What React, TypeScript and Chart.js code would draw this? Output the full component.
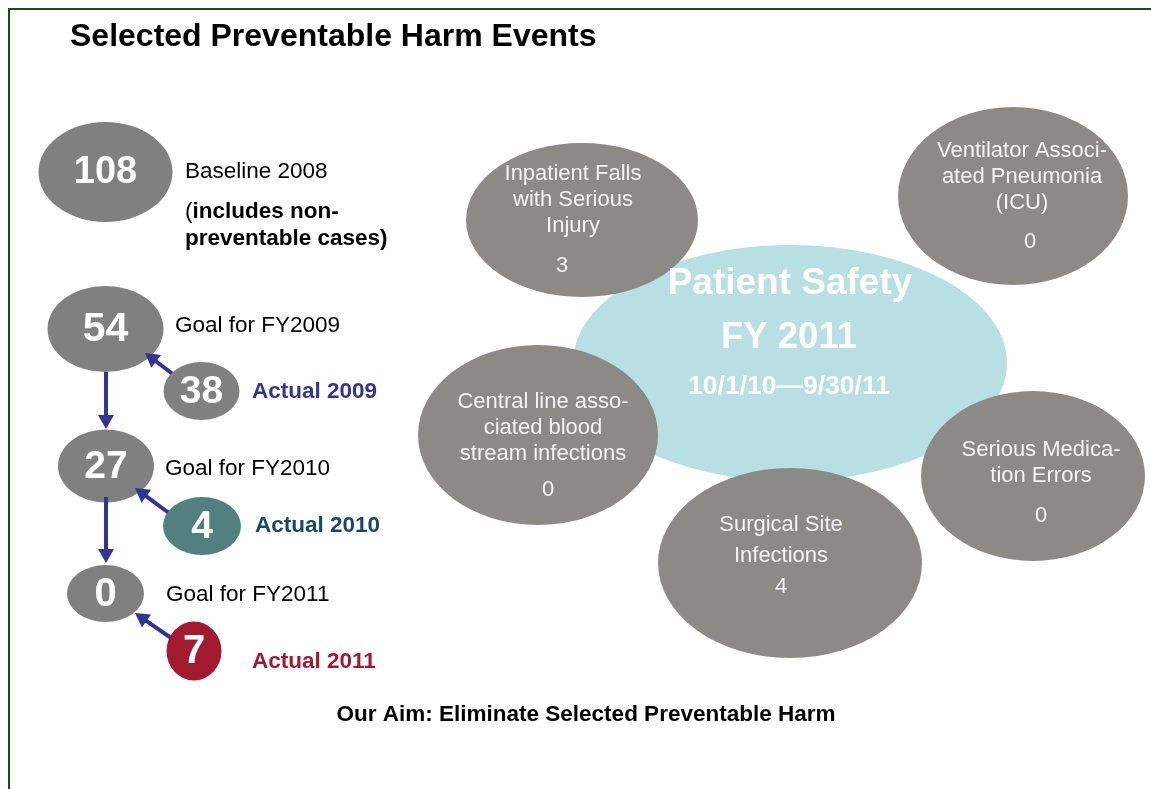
import React, { useEffect, useRef } from "react";
import { Chart, registerables } from "chart.js";

Chart.register(...registerables);

// ---------- data ----------
const goalValues = [108, 54, 27, 0];
const goalLabels = ["Baseline 2008", "Goal for FY2009", "Goal for FY2010", "Goal for FY2011"];
const actualValues = [38, 4, 7];
const actualLabels = ["Actual 2009", "Actual 2010", "Actual 2011"];
const harmCategories = [
  ["Inpatient Falls", "with Serious", "Injury"],
  ["Ventilator Associ-", "ated Pneumonia", "(ICU)"],
  ["Central line asso-", "ciated blood", "stream infections"],
  ["Serious Medica-", "tion Errors"],
  ["Surgical Site", "Infections"],
];
const harmCounts = [3, 0, 0, 0, 4];
const centerTitle = ["Patient Safety", "FY 2011"];
const centerPeriod = "10/1/10\u20149/30/11";
const chartTitle = "Selected Preventable Harm Events";
const aimText = "Our Aim: Eliminate Selected Preventable Harm";
const baselineNote = ["includes non-", "preventable cases)"];

// ---------- layout (positions / sizes, in canvas units) ----------
const goalLayout = [
  { x: 105.5, y: 172, rx: 67, ry: 50, fs: 38, lx: 185, ly: 172 },
  { x: 105.5, y: 329, rx: 58, ry: 43, fs: 41, lx: 175, ly: 326 },
  { x: 106, y: 466, rx: 48, ry: 36.5, fs: 39, lx: 165, ly: 469 },
  { x: 105.5, y: 593.5, rx: 38.5, ry: 28.5, fs: 40, lx: 166, ly: 595 },
];
const actualLayout = [
  { x: 201.5, y: 391, rx: 38, ry: 29, fs: 39, lx: 252, ly: 392, ax: 178, ay: 378, hx: 145, hy: 353 },
  { x: 202, y: 526, rx: 39, ry: 29, fs: 39, lx: 255, ly: 526, ax: 173, ay: 516, hx: 135, hy: 488 },
  { x: 194, y: 651, rx: 27.5, ry: 29.5, fs: 40, lx: 252, ly: 662, ax: 174, ay: 640, hx: 135, hy: 613 },
];
const downArrows = [
  { x: 106, y1: 372, y2: 429 },
  { x: 106, y1: 497, y2: 563 },
];
const centerLayout = { x: 790, y: 363, rx: 217, ry: 118 };
const harmLayout = [
  { x: 582, y: 220, rx: 116, ry: 77, tx: 573, ty: 174, vx: 562, vy: 266 },
  { x: 1013, y: 196, rx: 115, ry: 89, tx: 1022, ty: 151, vx: 1030, vy: 242 },
  { x: 538, y: 435, rx: 120, ry: 90, tx: 543, ty: 402, vx: 548, vy: 490 },
  { x: 1033, y: 476, rx: 112, ry: 85, tx: 1041, ty: 450, vx: 1041, vy: 516 },
  { x: 790, y: 563, rx: 132, ry: 95, tx: 781, ty: 525, vx: 781, vy: 587, lh: 31 },
];

// ---------- styles ----------
const FONT = "'Liberation Sans', Arial, Helvetica, sans-serif";
const goalColor = "#808080";
const actualColors = ["#808080", "#528080", "#A31A30"];
const actualLabelColors = ["#333399", "#17466E", "#A31A30"];
const arrowColor = "#333399";
const harmColor = "#8C8A86";
const centerColor = "#B8DFE3";
const frameColor = "#1E4A1E";

const W = 1151;
const H = 789;

function ellipse(ctx: CanvasRenderingContext2D, x: number, y: number, rx: number, ry: number, color: string) {
  ctx.beginPath();
  ctx.ellipse(x, y, rx, ry, 0, 0, Math.PI * 2);
  ctx.fillStyle = color;
  ctx.fill();
}

function text(
  ctx: CanvasRenderingContext2D,
  s: string,
  x: number,
  y: number,
  font: string,
  color: string,
  align: CanvasTextAlign = "center"
) {
  ctx.font = font;
  ctx.fillStyle = color;
  ctx.textAlign = align;
  ctx.textBaseline = "middle";
  ctx.fillText(s, x, y);
}

function arrow(ctx: CanvasRenderingContext2D, x1: number, y1: number, x2: number, y2: number) {
  const ang = Math.atan2(y2 - y1, x2 - x1);
  const hl = 14;
  const hw = 8;
  const bx = x2 - Math.cos(ang) * hl;
  const by = y2 - Math.sin(ang) * hl;
  ctx.strokeStyle = arrowColor;
  ctx.lineWidth = 4;
  ctx.lineCap = "butt";
  ctx.beginPath();
  ctx.moveTo(x1, y1);
  ctx.lineTo(bx + Math.cos(ang) * 2, by + Math.sin(ang) * 2);
  ctx.stroke();
  ctx.beginPath();
  ctx.moveTo(x2, y2);
  ctx.lineTo(bx + Math.cos(ang + Math.PI / 2) * hw, by + Math.sin(ang + Math.PI / 2) * hw);
  ctx.lineTo(bx - Math.cos(ang + Math.PI / 2) * hw, by - Math.sin(ang + Math.PI / 2) * hw);
  ctx.closePath();
  ctx.fillStyle = arrowColor;
  ctx.fill();
}

const infographicPlugin = {
  id: "infographic",
  beforeDatasetsDraw(chart: any) {
    const ctx: CanvasRenderingContext2D = chart.ctx;
    const xs = chart.scales.x;
    const ys = chart.scales.y;
    const px = (v: number) => xs.getPixelForValue(v);
    const py = (v: number) => ys.getPixelForValue(v);
    const rxp = (x: number, r: number) => Math.abs(px(x + r) - px(x));
    const ryp = (y: number, r: number) => Math.abs(py(y + r) - py(y));

    ctx.save();
    // frame
    ctx.strokeStyle = frameColor;
    ctx.lineWidth = 2;
    ctx.beginPath();
    ctx.moveTo(px(9), py(H + 5));
    ctx.lineTo(px(9), py(9));
    ctx.lineTo(px(W + 5), py(9));
    ctx.stroke();

    // title
    text(ctx, chartTitle, px(70), py(37), `bold 32px ${FONT}`, "#000", "left");

    // goals
    const gMeta = chart.getDatasetMeta(0);
    goalValues.forEach((v, i) => {
      const L = goalLayout[i];
      const el = gMeta.data[i];
      ellipse(ctx, el.x, el.y, rxp(L.x, L.rx), ryp(L.y, L.ry), goalColor);
      text(ctx, String(v), el.x, el.y + 1, `bold ${L.fs}px ${FONT}`, "#FFFFFF");
      text(ctx, goalLabels[i], px(L.lx), py(L.ly), `22.5px ${FONT}`, "#000", "left");
    });
    // baseline note
    ctx.font = `22.5px ${FONT}`;
    const pw = ctx.measureText("(").width;
    text(ctx, "(", px(185), py(212), `22.5px ${FONT}`, "#000", "left");
    text(ctx, baselineNote[0], px(185) + pw, py(212), `bold 22.5px ${FONT}`, "#000", "left");
    text(ctx, baselineNote[1], px(185), py(239), `bold 22.5px ${FONT}`, "#000", "left");

    // down arrows
    downArrows.forEach((a) => arrow(ctx, px(a.x), py(a.y1), px(a.x), py(a.y2)));

    // actuals
    const aMeta = chart.getDatasetMeta(1);
    actualValues.forEach((v, i) => {
      const L = actualLayout[i];
      const el = aMeta.data[i];
      arrow(ctx, px(L.ax), py(L.ay), px(L.hx), py(L.hy));
      ellipse(ctx, el.x, el.y, rxp(L.x, L.rx), ryp(L.y, L.ry), actualColors[i]);
      text(ctx, String(v), el.x, el.y + 1, `bold ${L.fs}px ${FONT}`, "#FFFFFF");
      text(ctx, actualLabels[i], px(L.lx), py(L.ly), `bold 22.5px ${FONT}`, actualLabelColors[i], "left");
    });

    // center
    const cMeta = chart.getDatasetMeta(2);
    const c = cMeta.data[0];
    ellipse(ctx, c.x, c.y, rxp(centerLayout.x, centerLayout.rx), ryp(centerLayout.y, centerLayout.ry), centerColor);

    // harm ellipses
    const hMeta = chart.getDatasetMeta(3);
    harmCounts.forEach((_, i) => {
      const L = harmLayout[i];
      const el = hMeta.data[i];
      ellipse(ctx, el.x, el.y, rxp(L.x, L.rx), ryp(L.y, L.ry), harmColor);
    });

    // center text
    text(ctx, centerTitle[0], px(790), py(284), `bold 37px ${FONT}`, "#FFFFFF");
    text(ctx, centerTitle[1], px(789), py(338), `bold 36.5px ${FONT}`, "#FFFFFF");
    text(ctx, centerPeriod, px(789), py(387), `bold 26.5px ${FONT}`, "#FFFFFF");

    // harm text
    harmCounts.forEach((v, i) => {
      const L: any = harmLayout[i];
      const lh = L.lh || 26;
      harmCategories[i].forEach((line, j) => {
        text(ctx, line, px(L.tx), py(L.ty + j * lh), `22px ${FONT}`, "#F4F4F4");
      });
      text(ctx, String(v), px(L.vx), py(L.vy), `22px ${FONT}`, "#F4F4F4");
    });

    // aim
    text(ctx, aimText, px(586), py(715), `bold 22.5px ${FONT}`, "#000");
    ctx.restore();
  },
};

export default function App() {
  const ref = useRef<HTMLCanvasElement | null>(null);
  useEffect(() => {
    if (!ref.current) return;
    const chart = new Chart(ref.current, {
      type: "scatter",
      data: {
        datasets: [
          { label: "Goals", data: goalLayout.map((l) => ({ x: l.x, y: l.y })), pointRadius: 0 },
          { label: "Actuals", data: actualLayout.map((l) => ({ x: l.x, y: l.y })), pointRadius: 0 },
          { label: "Center", data: [{ x: centerLayout.x, y: centerLayout.y }], pointRadius: 0 },
          { label: "Harm", data: harmLayout.map((l) => ({ x: l.x, y: l.y })), pointRadius: 0 },
        ],
      },
      options: {
        animation: false,
        responsive: false,
        events: [],
        layout: { padding: 0 },
        plugins: { legend: { display: false }, tooltip: { enabled: false }, title: { display: false } },
        scales: {
          x: { type: "linear", min: 0, max: W, display: false },
          y: { type: "linear", min: 0, max: H, reverse: true, display: false },
        },
      },
      plugins: [infographicPlugin],
    });
    return () => chart.destroy();
  }, []);
  return (
    <div style={{ position: "fixed", left: 0, top: 0, width: W, height: H, background: "#fff" }}>
      <canvas ref={ref} width={W} height={H} style={{ display: "block", width: W, height: H }} />
    </div>
  );
}
